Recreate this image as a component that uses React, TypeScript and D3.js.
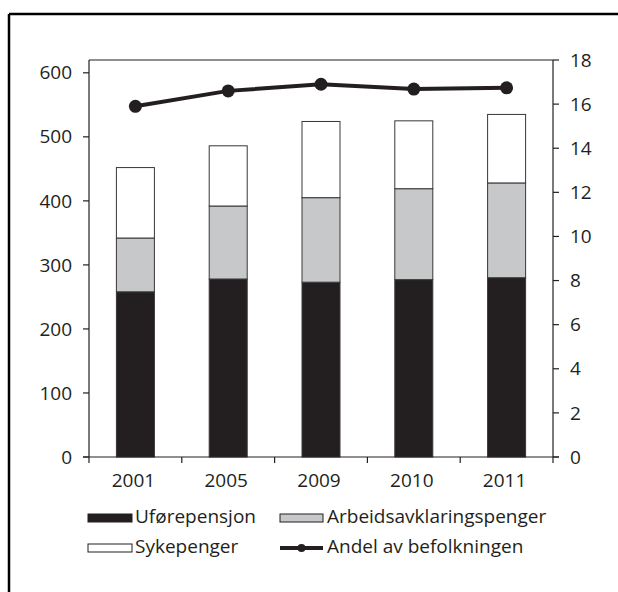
import React from "react";
import * as d3 from "d3";

const years = ["2001", "2005", "2009", "2010", "2011"];
const uforepensjon = [258, 278, 273, 277, 280];
const arbeidsavklaring = [84, 114, 132, 142, 148];
const sykepenger = [110, 94, 119, 106, 107];
const andel = [15.9, 16.6, 16.9, 16.68, 16.74];
const leftTicks = [0, 100, 200, 300, 400, 500, 600];
const rightTicks = [0, 2, 4, 6, 8, 10, 12, 14, 16, 18];
const seriesNames = ["Uførepensjon", "Arbeidsavklaringspenger", "Sykepenger", "Andel av befolkningen"];

const INK = "#231f20";
const GRAY = "#c7c8ca";
const FONT = "'Open Sans', sans-serif";
const FS = 19;

export default function App() {
  const W = 618, H = 592;
  const left = 89, right = 553, top = 60, bottom = 457;

  const x = d3.scaleBand<string>().domain(years).range([left, right]).padding(0);
  const yL = d3.scaleLinear().domain([0, 620]).range([bottom, top]);
  const yR = d3.scaleLinear().domain([0, 18]).range([bottom, top]);
  const barW = 38;

  const rows = years.map((yr, i) => ({
    year: yr,
    segs: [
      { y0: 0, y1: uforepensjon[i], fill: INK },
      { y0: uforepensjon[i], y1: uforepensjon[i] + arbeidsavklaring[i], fill: GRAY },
      {
        y0: uforepensjon[i] + arbeidsavklaring[i],
        y1: uforepensjon[i] + arbeidsavklaring[i] + sykepenger[i],
        fill: "#ffffff",
      },
    ],
  }));

  const cx = (i: number) => (x(years[i]) as number) + x.bandwidth() / 2;

  const line = d3
    .line<number>()
    .x((_, i) => cx(i))
    .y((d) => yR(d));

  const boundaries = d3.range(years.length + 1).map((i) => left + i * x.step());

  return (
    <svg
      width={W}
      height={H}
      style={{ position: "absolute", left: 0, top: 0, background: "#fff" }}
      fontFamily={FONT}
    >
      {/* outer frame (top + left) */}
      <line x1={9} y1={14} x2={W} y2={14} stroke="#000" strokeWidth={2.5} />
      <line x1={9} y1={14} x2={9} y2={H} stroke="#000" strokeWidth={2.5} />

      {/* bars */}
      {rows.map((r) =>
        r.segs.map((s, j) => (
          <rect
            key={r.year + j}
            x={(x(r.year) as number) + x.bandwidth() / 2 - barW / 2}
            y={yL(s.y1)}
            width={barW}
            height={yL(s.y0) - yL(s.y1)}
            fill={s.fill}
            stroke="#3a3637"
            strokeWidth={1}
          />
        ))
      )}

      {/* plot frame */}
      <line x1={left} y1={top} x2={right} y2={top} stroke={INK} strokeWidth={1} />
      <line x1={left} y1={top} x2={left} y2={bottom} stroke={INK} strokeWidth={1.2} />
      <line x1={right} y1={top} x2={right} y2={bottom} stroke={INK} strokeWidth={1.2} />
      <line x1={left - 6} y1={bottom} x2={right + 6} y2={bottom} stroke={INK} strokeWidth={1.2} />

      {/* left axis */}
      {leftTicks.map((t) => (
        <g key={"l" + t}>
          <line x1={left - 6} x2={left} y1={yL(t)} y2={yL(t)} stroke={INK} strokeWidth={1.2} />
          <text x={72} y={yL(t)} dy="0.35em" textAnchor="end" fontSize={FS} fill={INK}>
            {t}
          </text>
        </g>
      ))}

      {/* right axis */}
      {rightTicks.map((t) => (
        <g key={"r" + t}>
          <line x1={right} x2={right + 6} y1={yR(t)} y2={yR(t)} stroke={INK} strokeWidth={1.2} />
          <text x={570} y={yR(t)} dy="0.35em" textAnchor="start" fontSize={FS} fill={INK}>
            {t}
          </text>
        </g>
      ))}

      {/* x axis ticks & labels */}
      {boundaries.map((b, i) => (
        <line key={"b" + i} x1={b} x2={b} y1={bottom} y2={bottom + 6} stroke={INK} strokeWidth={1.2} />
      ))}
      {years.map((yr) => (
        <text
          key={"x" + yr}
          x={(x(yr) as number) + x.bandwidth() / 2 - 2}
          y={487}
          textAnchor="middle"
          fontSize={FS}
          fill={INK}
        >
          {yr}
        </text>
      ))}

      {/* line series */}
      <path d={line(andel) || ""} fill="none" stroke={INK} strokeWidth={4} />
      {andel.map((v, i) => (
        <circle key={"c" + i} cx={cx(i)} cy={yR(v)} r={6.5} fill={INK} />
      ))}

      {/* legend */}
      <rect x={88} y={514} width={44} height={8} fill={INK} stroke={INK} strokeWidth={1} />
      <text x={135} y={523} fontSize={FS} fill={INK}>{seriesNames[0]}</text>

      <rect x={280} y={514} width={43} height={8} fill={GRAY} stroke={INK} strokeWidth={1} />
      <text x={327} y={523} fontSize={FS} fill={INK}>{seriesNames[1]}</text>

      <rect x={88} y={544} width={44} height={8} fill="#fff" stroke={INK} strokeWidth={1} />
      <text x={135} y={553} fontSize={FS} fill={INK}>{seriesNames[2]}</text>

      <line x1={280} x2={323} y1={548} y2={548} stroke={INK} strokeWidth={4} />
      <circle cx={301.5} cy={548} r={4} fill={INK} />
      <text x={327} y={553} fontSize={FS} fill={INK}>{seriesNames[3]}</text>
    </svg>
  );
}
